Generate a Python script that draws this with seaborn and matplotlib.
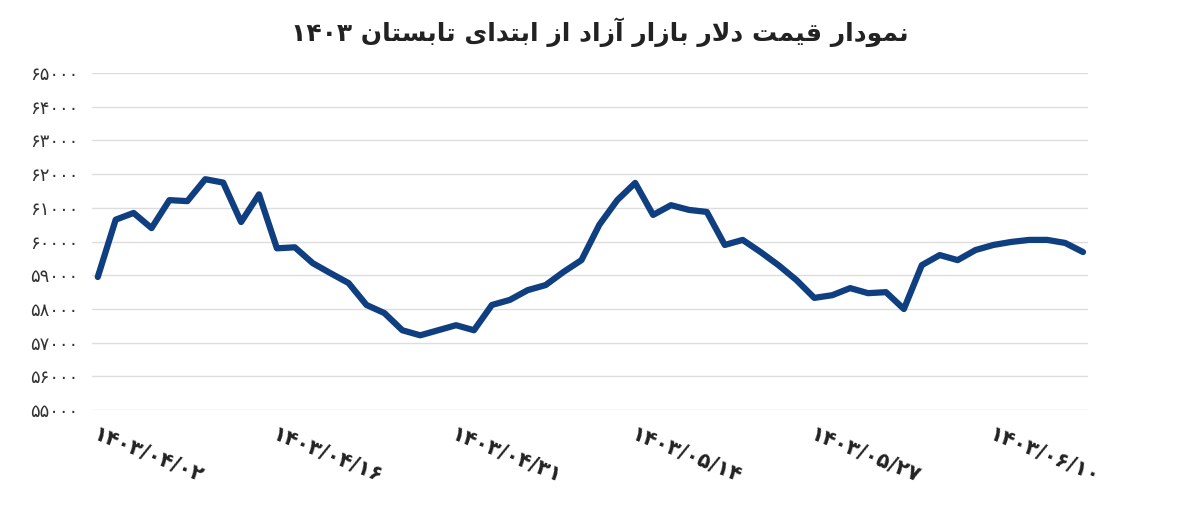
import matplotlib
matplotlib.use("Agg")
import matplotlib.pyplot as plt
import seaborn as sns
import pandas as pd

values = [58950, 60650, 60850, 60400, 61230, 61200, 61850, 61750, 60580, 61400,
          59800, 59830, 59360, 59060, 58770, 58120, 57880, 57370, 57220, 57370,
          57520, 57370, 58120, 58270, 58560, 58710, 59100, 59450, 60500, 61230,
          61740, 60790, 61080, 60940, 60880, 59900, 60050, 59690, 59300, 58860,
          58330, 58410, 58620, 58470, 58500, 58000, 59300, 59600, 59450, 59750,
          59900, 59990, 60050, 60050, 59960, 59690]
tick_pos = [0, 10, 20, 30, 40, 50]
tick_labels = ["۱۴۰۳/۰۴/۰۲", "۱۴۰۳/۰۴/۱۶", "۱۴۰۳/۰۴/۳۱", "۱۴۰۳/۰۵/۱۴", "۱۴۰۳/۰۵/۲۷", "۱۴۰۳/۰۶/۱۰"]
y_ticks = [55000, 56000, 57000, 58000, 59000, 60000, 61000, 62000, 63000, 64000, 65000]
title_words = ["نمودار", "قیمت", "دلار", "بازار", "آزاد", "از", "ابتدای", "تابستان", "۱۴۰۳"]

FORMS = {
    'ا': (0xFE8D, 0xFE8E, None, None), 'آ': (0xFE81, 0xFE82, None, None),
    'ب': (0xFE8F, 0xFE90, 0xFE91, 0xFE92), 'ت': (0xFE95, 0xFE96, 0xFE97, 0xFE98),
    'د': (0xFEA9, 0xFEAA, None, None), 'ر': (0xFEAD, 0xFEAE, None, None),
    'ز': (0xFEAF, 0xFEB0, None, None), 'س': (0xFEB1, 0xFEB2, 0xFEB3, 0xFEB4),
    'ق': (0xFED5, 0xFED6, 0xFED7, 0xFED8), 'ل': (0xFEDD, 0xFEDE, 0xFEDF, 0xFEE0),
    'م': (0xFEE1, 0xFEE2, 0xFEE3, 0xFEE4), 'ن': (0xFEE5, 0xFEE6, 0xFEE7, 0xFEE8),
    'و': (0xFEED, 0xFEEE, None, None), 'ی': (0xFBFC, 0xFBFD, 0xFBFE, 0xFBFF),
    'LA': (0xFEFB, 0xFEFC, None, None),
}

def shape(word):
    if word[0] not in FORMS and word[0] != 'ل':
        return word
    chars = []
    i = 0
    while i < len(word):
        if word[i] == 'ل' and i + 1 < len(word) and word[i + 1] == 'ا':
            chars.append('LA'); i += 2
        else:
            chars.append(word[i]); i += 1
    out = []
    for k, c in enumerate(chars):
        f = FORMS[c]
        prev_joins = k > 0 and FORMS[chars[k - 1]][2] is not None
        next_exists = k + 1 < len(chars) and f[2] is not None
        if prev_joins and next_exists:
            cp = f[3]
        elif prev_joins:
            cp = f[1]
        elif next_exists:
            cp = f[2]
        else:
            cp = f[0]
        out.append(chr(cp))
    return ''.join(reversed(out))

title = ' '.join(shape(w) for w in reversed(title_words))

def fa(n):
    return str(n).translate(str.maketrans("0123456789", "۰۱۲۳۴۵۶۷۸۹"))

sns.set_theme(style="white")
plt.rcParams['font.family'] = ['DejaVu Sans']

fig = plt.figure(figsize=(12, 5.07), dpi=100)
ax = fig.add_axes([0.077, 0.191, 0.83, 0.665])
df = pd.DataFrame({"i": range(len(values)), "v": values})
sns.lineplot(data=df, x="i", y="v", ax=ax, color="#0f3f80", linewidth=4.5,
             solid_joinstyle="round", solid_capstyle="round")
ax.set_ylim(55000, 65000)
ax.set_xlim(-0.3, len(values) - 0.7)
ax.set_yticks(y_ticks)
ax.set_yticklabels([fa(v) for v in y_ticks], fontsize=13, color="#333333")
ax.set_xticks(tick_pos)
ax.set_xticklabels(tick_labels, rotation=-22, ha="left", rotation_mode="anchor",
                   fontsize=15, fontweight="bold", color="#222222")
ax.grid(axis="y", color="#dddddd", linewidth=1)
ax.set_xlabel(""); ax.set_ylabel("")
for s in ax.spines.values():
    s.set_visible(False)
ax.tick_params(axis="both", length=0, pad=10)
fig.suptitle(title, y=0.965, fontsize=18, fontweight="bold", color="#222222")
fig.savefig("out.png", dpi=100)
